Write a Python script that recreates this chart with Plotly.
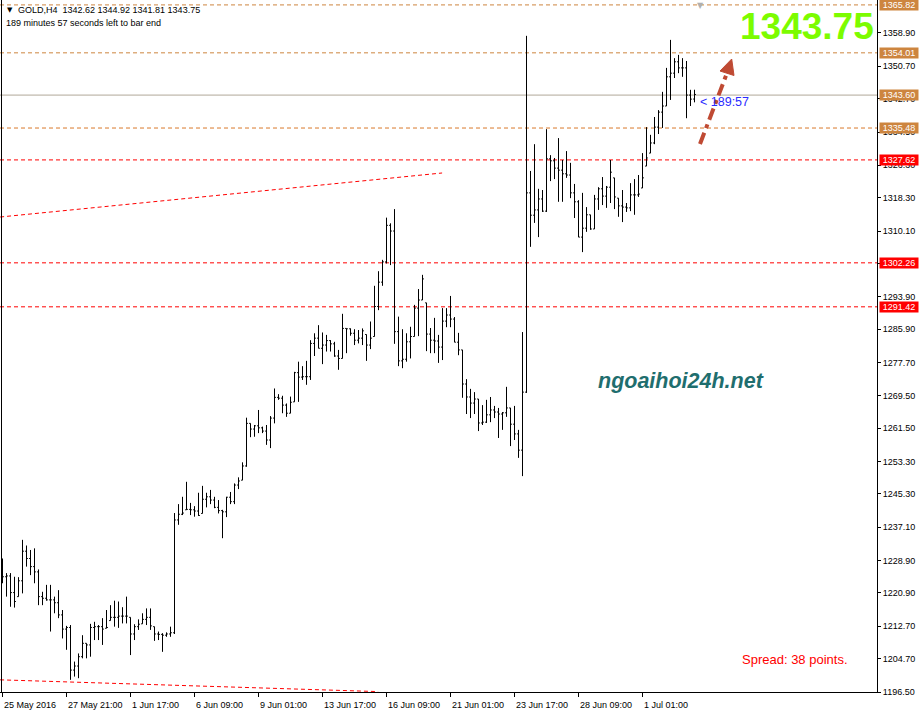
import plotly.graph_objects as go

# ---------------- data ----------------
bar_open = [
1228.2,1224.9,1225.1,1221.0,1220.0,1223.9,1231.2,1229.4,1227.4,1226.1,
1220.0,1219.6,1219.2,1219.2,1218.5,1215.5,1212.0,1212.4,1201.9,1202.9,
1205.2,1208.5,1208.1,1212.4,1212.6,1212.6,1212.2,1214.1,1214.9,1214.9,
1215.2,1215.2,1214.9,1210.8,1212.6,1213.3,1214.4,1214.9,1212.6,1210.8,
1210.7,1210.5,1210.8,1211.1,1238.9,1240.3,1241.4,1241.5,1241.4,1241.1,
1240.5,1244.0,1244.6,1243.8,1242.0,1241.2,1240.9,1244.5,1243.4,1247.5,
1248.7,1252.2,1262.7,1261.3,1262.1,1261.6,1260.8,1258.6,1264.0,1269.1,
1268.9,1267.2,1265.2,1268.0,1275.2,1274.1,1274.2,1274.2,1282.4,1283.7,
1281.2,1282.0,1283.1,1282.3,1279.3,1278.7,1286.1,1286.0,1284.9,1283.2,
1283.7,1284.6,1282.0,1284.1,1291.5,1297.5,1302.5,1311.5,1310.1,1285.3,
1278.1,1278.5,1282.8,1284.1,1291.1,1293.1,1292.4,1284.7,1283.2,1283.0,
1281.5,1287.9,1289.4,1288.4,1282.7,1280.8,1272.4,1269.2,1267.7,1268.7,
1262.8,1263.0,1264.8,1266.0,1265.5,1265.0,1265.3,1266.5,1262.5,1260.1,
1256.1,1270.4,1319.5,1314.0,1315.3,1318.0,1315.0,1327.9,1327.4,1325.6,
1325.1,1324.2,1323.9,1319.5,1317.3,1308.6,1310.8,1314.1,1310.6,1318.0,
1320.5,1318.7,1320.9,1323.2,1318.2,1316.3,1316.0,1315.8,1319.0,1319.0,
1320.7,1326.1,1329.3,1331.8,1335.7,1339.4,1340.9,1348.1,1349.0,1351.8,
1350.3,1350.3,1343.6,1342.62]

bar_high = [
1229.4,1225.8,1225.8,1224.9,1224.8,1234.0,1232.6,1231.5,1231.9,1226.7,
1221.2,1222.9,1222.9,1220.0,1221.6,1216.7,1212.8,1213.0,1204.0,1206.0,
1210.5,1208.5,1213.3,1213.8,1213.0,1214.7,1216.7,1217.9,1219.0,1218.8,
1217.4,1220.0,1214.9,1213.2,1214.4,1215.9,1217.1,1217.1,1212.6,1211.4,
1211.0,1211.2,1212.6,1240.6,1242.8,1244.6,1248.3,1243.1,1242.3,1245.6,
1247.3,1245.6,1246.3,1244.6,1243.8,1241.4,1244.6,1245.8,1247.9,1249.4,
1253.1,1264.1,1262.7,1262.3,1266.0,1261.9,1262.3,1264.5,1271.3,1269.9,
1269.5,1267.6,1269.3,1275.4,1277.9,1276.8,1278.1,1283.2,1284.9,1286.9,
1285.1,1284.5,1283.2,1282.8,1280.8,1289.7,1286.1,1286.1,1285.9,1285.7,
1286.1,1284.6,1287.8,1296.6,1300.2,1303.0,1313.4,1312.0,1315.5,1289.0,
1285.9,1284.9,1286.5,1291.9,1295.8,1299.3,1292.4,1286.2,1288.7,1284.5,
1291.1,1291.1,1294.1,1288.9,1285.0,1280.8,1273.6,1271.2,1270.4,1268.7,
1267.2,1268.5,1269.2,1267.0,1266.5,1265.5,1271.7,1266.5,1267.0,1261.1,
1285.2,1358.2,1324.9,1331.5,1320.5,1320.2,1335.2,1328.8,1328.1,1333.0,
1327.6,1329.8,1326.9,1321.7,1317.7,1319.5,1316.0,1314.1,1319.0,1320.9,
1323.4,1321.2,1327.6,1323.2,1318.2,1320.2,1317.0,1321.9,1322.9,1323.9,
1329.3,1335.7,1333.8,1338.2,1339.9,1344.4,1350.3,1357.2,1352.7,1353.5,
1352.7,1352.0,1344.9,1344.92]

bar_low = [
1223.3,1220.0,1217.5,1217.3,1220.0,1220.8,1227.4,1225.3,1223.3,1217.9,
1217.9,1219.0,1211.4,1215.9,1214.7,1209.7,1206.9,1199.5,1200.3,1199.9,
1204.8,1204.8,1205.2,1209.3,1209.3,1208.1,1212.2,1214.1,1212.6,1212.3,
1213.4,1213.4,1205.6,1209.3,1211.8,1213.3,1213.0,1211.8,1209.1,1209.3,
1206.4,1210.1,1210.1,1210.8,1237.7,1240.1,1241.4,1240.1,1239.7,1239.9,
1240.5,1242.0,1242.8,1241.8,1240.5,1234.4,1239.6,1242.8,1242.8,1246.5,
1248.7,1252.0,1259.3,1259.4,1260.3,1260.3,1257.4,1256.6,1262.7,1268.5,
1265.2,1264.3,1265.2,1268.0,1268.0,1273.4,1272.2,1273.4,1279.3,1281.2,
1277.3,1280.4,1280.4,1279.1,1275.9,1278.7,1280.0,1284.3,1282.0,1282.4,
1282.0,1278.1,1281.0,1284.1,1290.6,1296.6,1302.1,1301.7,1282.3,1276.8,
1276.3,1277.9,1278.7,1284.1,1284.2,1293.1,1280.5,1280.0,1280.0,1277.6,
1278.3,1286.4,1286.4,1282.7,1279.5,1269.0,1265.0,1264.0,1265.0,1260.8,
1262.3,1262.8,1263.0,1264.0,1259.1,1261.1,1264.3,1257.1,1258.6,1254.2,
1249.7,1270.2,1306.2,1312.1,1308.6,1314.8,1314.8,1322.4,1322.9,1317.3,
1317.3,1323.2,1318.2,1313.3,1308.6,1304.9,1309.9,1310.4,1310.6,1315.3,
1316.5,1315.8,1317.0,1315.5,1313.6,1312.3,1314.8,1315.0,1314.1,1318.5,
1320.7,1326.1,1329.3,1331.5,1334.0,1335.5,1340.9,1342.4,1347.8,1349.0,
1348.1,1337.9,1340.9,1341.81]

bar_close = [
1224.9,1225.1,1221.0,1218.8,1223.9,1231.2,1229.4,1227.4,1226.1,1220.0,
1219.6,1219.2,1219.2,1218.5,1215.5,1212.0,1212.4,1201.9,1202.9,1205.2,
1208.5,1208.1,1212.4,1212.6,1212.6,1212.0,1212.4,1214.9,1214.9,1215.2,
1215.2,1215.2,1210.8,1212.6,1213.2,1214.4,1214.9,1212.8,1210.8,1210.7,
1210.5,1210.8,1211.1,1238.9,1240.3,1240.6,1241.5,1241.4,1241.1,1240.0,
1244.0,1244.6,1243.8,1242.0,1241.2,1240.9,1244.5,1243.4,1247.5,1248.5,
1252.2,1262.7,1261.3,1262.1,1261.6,1260.8,1258.6,1264.0,1269.1,1268.9,
1267.2,1265.2,1267.9,1275.2,1274.1,1274.2,1274.2,1282.4,1283.7,1281.2,
1282.0,1283.1,1282.3,1279.3,1278.7,1286.1,1286.0,1284.9,1283.2,1283.7,
1285.5,1282.0,1283.7,1291.5,1297.5,1302.5,1311.5,1310.1,1285.3,1278.1,
1278.5,1282.8,1284.1,1291.1,1293.1,1298.3,1284.7,1283.2,1283.0,1281.5,
1287.9,1289.4,1288.4,1282.7,1280.8,1272.4,1269.2,1267.7,1268.7,1262.8,
1263.0,1264.8,1266.0,1265.5,1265.0,1265.3,1266.5,1262.5,1260.1,1256.1,
1270.4,1319.5,1314.0,1315.3,1318.0,1315.0,1327.9,1327.4,1325.6,1325.1,
1324.2,1323.9,1319.5,1317.3,1308.6,1310.8,1314.1,1310.6,1318.0,1320.5,
1318.7,1320.9,1324.6,1318.5,1316.3,1316.0,1315.8,1319.0,1319.0,1319.2,
1323.2,1328.1,1331.8,1335.7,1339.4,1340.9,1348.1,1349.0,1351.8,1350.3,
1350.3,1343.6,1342.6,1343.75]

x_tick_bars = [0, 16, 32, 48, 64, 80, 96, 112, 128, 144, 160]
x_tick_labels = ["25 May 2016", "27 May 21:00", "1 Jun 17:00", "6 Jun 09:00",
                 "9 Jun 01:00", "13 Jun 17:00", "16 Jun 09:00", "21 Jun 01:00",
                 "23 Jun 17:00", "28 Jun 09:00", "1 Jul 01:00"]

y_tick_values = [1358.90, 1350.70, 1342.70, 1334.50, 1326.30, 1318.30, 1310.10,
                 1302.10, 1293.90, 1285.90, 1277.70, 1269.50, 1261.50, 1253.30,
                 1245.30, 1237.10, 1228.90, 1220.90, 1212.70, 1204.70, 1196.50]

level_prices = [1365.82, 1354.01, 1343.60, 1335.48, 1327.62, 1302.26, 1291.42]
level_line_colors = ["#cd853f", "#cd853f", "#b0a898", "#d9782b", "#ff0000", "#ff0000", "#ff0000"]
level_line_dash = ["4px,3px", "4px,3px", "solid", "4px,3px", "4px,3px", "4px,3px", "4px,3px"]
level_box_colors = ["#cd853f", "#cd853f", "#cd853f", "#cd853f", "#ff0000", "#ff0000", "#ff0000"]

# trend lines: (bar position, price) at both ends
trend_upper_x = [-0.6, 109.9]
trend_upper_y = [1313.55, 1324.4]
trend_lower_x = [-0.6, 93.9]
trend_lower_y = [1199.5, 1196.6]

header_line1 = "GOLD,H4  1342.62 1344.92 1341.81 1343.75"
header_line2 = "189 minutes 57 seconds left to bar end"
last_price_text = "1343.75"
timer_text = "< 189:57"
watermark_text = "ngoaihoi24h.net"
spread_text = "Spread: 38 points."

# ---------------- layout geometry ----------------
W, H = 922, 719
PW, PH = 877, 692          # plot area in pixels
Y0 = 1196.5
Y1 = 1196.5 + PH * 0.24643
X0 = -0.625
X1 = X0 + PW / 4.0

def px(x):
    return x / PW

def py(y):
    return 1 - y / PH

FONT = "Liberation Sans, Arial, sans-serif"

fig = go.Figure()

fig.add_trace(go.Scatter(x=trend_upper_x, y=trend_upper_y, mode="lines",
                         line=dict(color="#ff0000", width=1, dash="4px,3px"),
                         hoverinfo="skip", showlegend=False))
fig.add_trace(go.Scatter(x=trend_lower_x, y=trend_lower_y, mode="lines",
                         line=dict(color="#ff0000", width=1, dash="4px,3px"),
                         hoverinfo="skip", showlegend=False))

fig.add_trace(go.Ohlc(
    x=list(range(len(bar_close))),
    open=bar_open, high=bar_high, low=bar_low, close=bar_close,
    increasing=dict(line=dict(color="black", width=1)),
    decreasing=dict(line=dict(color="black", width=1)),
    tickwidth=0.35, showlegend=False))

shapes = []
for p, c, d in zip(level_prices, level_line_colors, level_line_dash):
    shapes.append(dict(type="line", xref="paper", yref="y", x0=0, x1=1, y0=p, y1=p,
                       line=dict(color=c, width=1, dash=d), layer="below"))
# left border
shapes.append(dict(type="line", xref="paper", yref="paper", x0=px(1.5), x1=px(1.5),
                   y0=0, y1=1, line=dict(color="black", width=1)))
# drawn arrow (dash-dot shaft + head)
ac = "#bf4a33"
shapes.append(dict(type="line", xref="paper", yref="paper",
                   x0=px(700), y0=py(144), x1=px(727), y1=py(73),
                   line=dict(color=ac, width=4, dash="12px,5px,4px,5px")))
shapes.append(dict(type="path", xref="paper", yref="paper",
                   path="M {},{} L {},{} L {},{} Z".format(px(731.7), py(59), px(720), py(71),
                                                           px(734), py(75.5)),
                   fillcolor=ac, line=dict(color=ac, width=1)))

ann = []
for p, bc in zip(level_prices, level_box_colors):
    ann.append(dict(xref="paper", yref="y", x=1, y=p, xanchor="left", yanchor="middle",
                    xshift=2, text="{:.2f}".format(p), showarrow=False,
                    font=dict(family=FONT, size=9, color="white"),
                    bgcolor=bc, width=38, height=10, borderpad=0))
for b, t in zip(x_tick_bars, x_tick_labels):
    ann.append(dict(xref="x", yref="paper", x=b, y=0, xanchor="left", yanchor="top",
                    xshift=-1, yshift=-6, text=t, showarrow=False,
                    font=dict(family=FONT, size=9, color="black")))
ann.append(dict(xref="paper", yref="paper", x=px(5), y=py(10), xanchor="left", yanchor="middle",
                text="▼", showarrow=False, font=dict(family="DejaVu Sans", size=7, color="black")))
ann.append(dict(xref="paper", yref="paper", x=px(16), y=py(10), xanchor="left", yanchor="middle",
                text=header_line1, showarrow=False, font=dict(family=FONT, size=9, color="black")))
ann.append(dict(xref="paper", yref="paper", x=px(4), y=py(23), xanchor="left", yanchor="middle",
                text=header_line2, showarrow=False, font=dict(family=FONT, size=9, color="black")))
ann.append(dict(xref="paper", yref="paper", x=px(876), y=py(26), xanchor="right", yanchor="middle",
                text="<b>" + last_price_text + "</b>", showarrow=False,
                font=dict(family=FONT, size=37, color="#7cfc00")))
ann.append(dict(xref="paper", yref="paper", x=px(698), y=py(102), xanchor="left", yanchor="middle",
                text=timer_text.replace("<", "&lt;"), showarrow=False,
                font=dict(family=FONT, size=12.5, color="#2b2bff")))
ann.append(dict(xref="paper", yref="paper", x=px(596), y=py(381), xanchor="left", yanchor="middle",
                text="<b><i>" + watermark_text + "</i></b>", showarrow=False,
                font=dict(family=FONT, size=21.5, color="#1f6e6e")))
ann.append(dict(xref="paper", yref="paper", x=px(740), y=py(659), xanchor="left", yanchor="middle",
                text=spread_text, showarrow=False,
                font=dict(family=FONT, size=13, color="#ff0000")))
ann.append(dict(xref="paper", yref="paper", x=px(700), y=py(5), xanchor="center", yanchor="middle",
                text="▼", showarrow=False, font=dict(family="DejaVu Sans", size=8, color="#b0b0b0")))

fig.update_layout(
    width=W, height=H,
    margin=dict(l=0, r=W - PW, t=0, b=H - PH, pad=0),
    paper_bgcolor="white", plot_bgcolor="white",
    showlegend=False,
    shapes=shapes, annotations=ann,
    xaxis=dict(range=[X0, X1], showgrid=False, zeroline=False, showline=True,
               linecolor="black", linewidth=1, ticks="outside", ticklen=4,
               tickcolor="black", tickvals=x_tick_bars,
               ticktext=["" for _ in x_tick_bars], rangeslider=dict(visible=False),
               fixedrange=True),
    yaxis=dict(range=[Y0, Y1], side="right", showgrid=False, zeroline=False,
               showline=True, linecolor="black", linewidth=1, ticks="outside",
               ticklen=3, tickcolor="black", tickvals=y_tick_values,
               ticktext=["{:.2f}".format(v) for v in y_tick_values],
               tickfont=dict(family=FONT, size=9, color="black"), fixedrange=True),
)

fig.write_html("out.html", config={"displayModeBar": False},
               post_script="document.body.style.margin='0';document.body.style.padding='0';")
